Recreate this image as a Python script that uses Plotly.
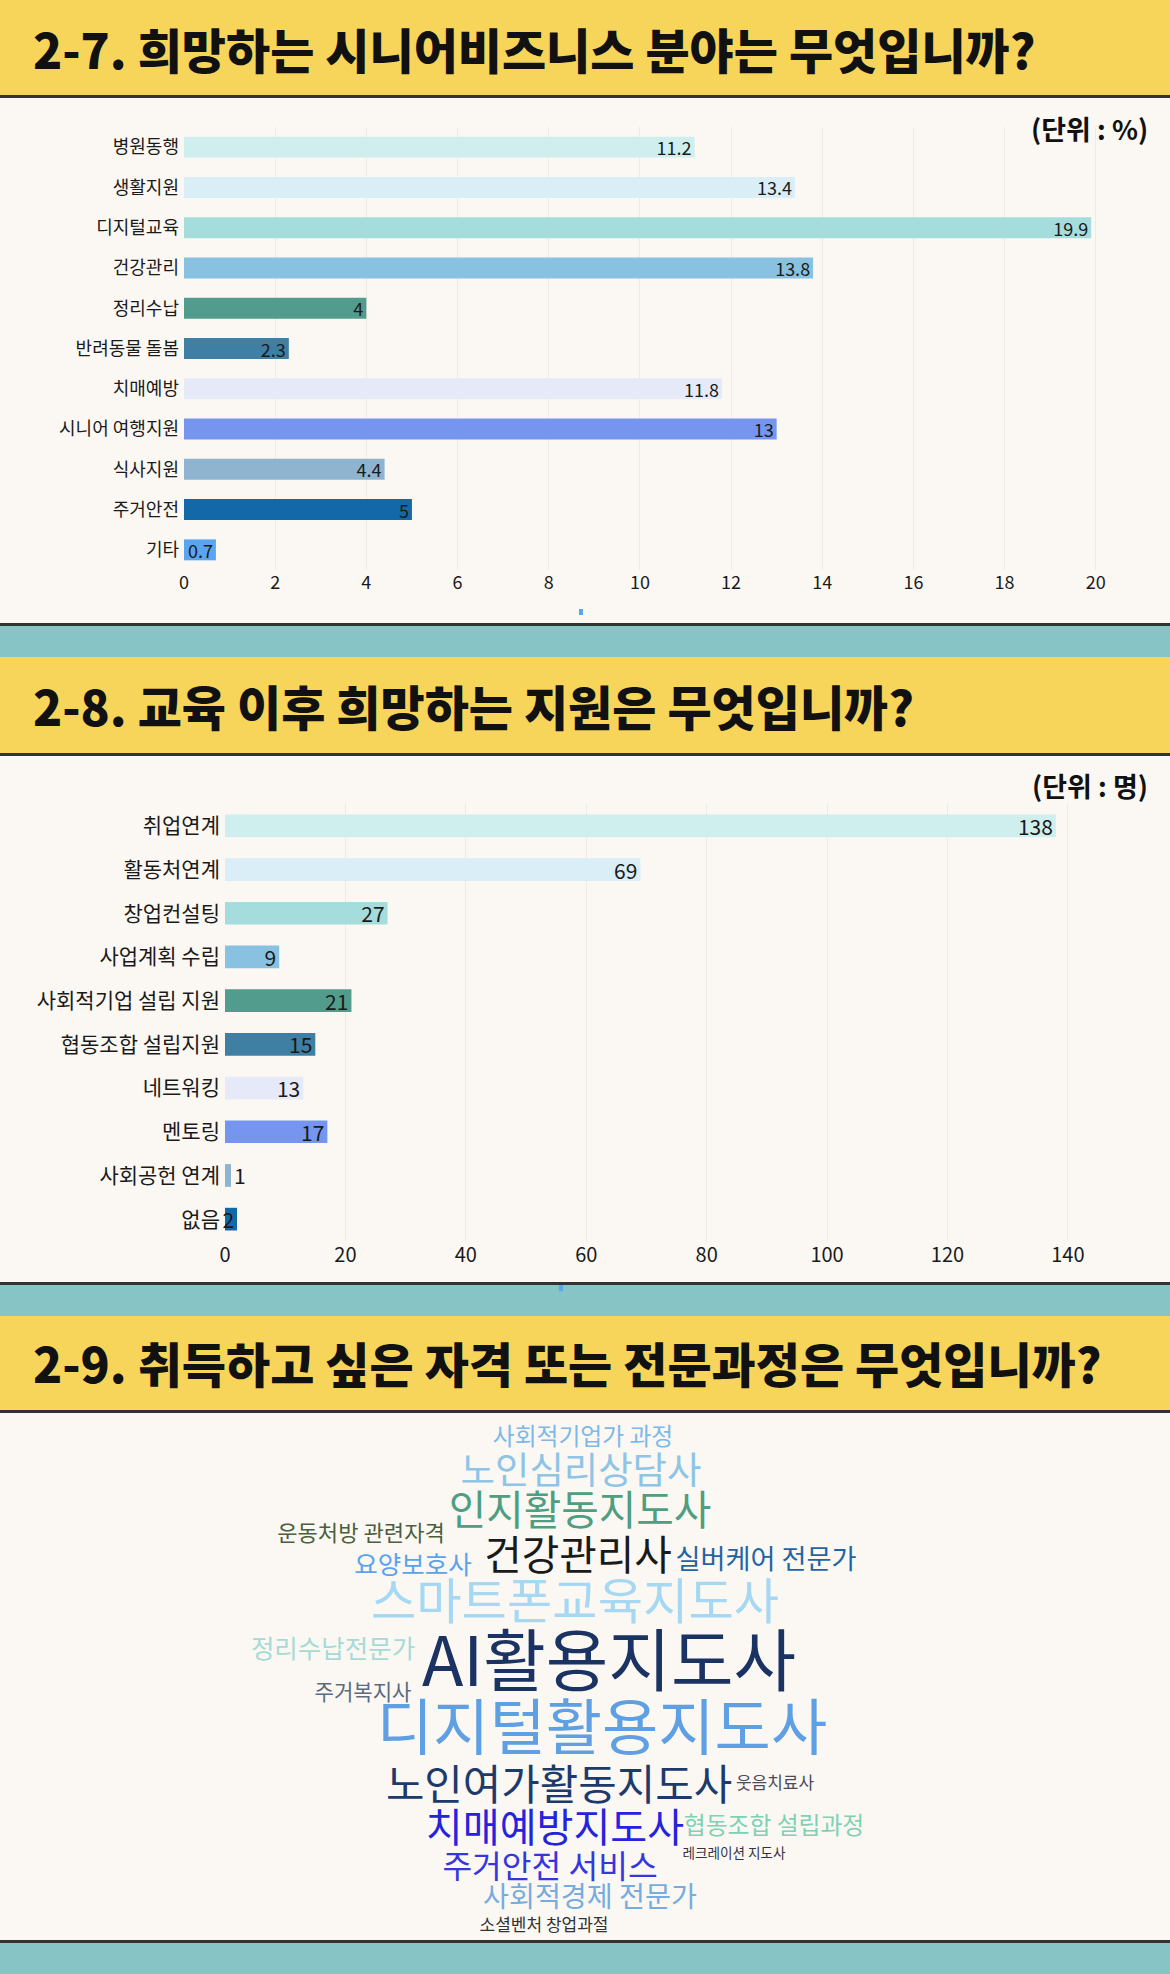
import plotly.graph_objects as go

# 2-7 희망하는 시니어비즈니스 분야 (%)
biz_labels = ["병원동행", "생활지원", "디지털교육", "건강관리", "정리수납", "반려동물 돌봄",
              "치매예방", "시니어 여행지원", "식사지원", "주거안전", "기타"]
biz_values = [11.2, 13.4, 19.9, 13.8, 4, 2.3, 11.8, 13, 4.4, 5, 0.7]

# 2-8 교육 이후 희망하는 지원 (명)
support_labels = ["취업연계", "활동처연계", "창업컨설팅", "사업계획 수립", "사회적기업 설립 지원",
                  "협동조합 설립지원", "네트워킹", "멘토링", "사회공헌 연계", "없음"]
support_values = [138, 69, 27, 9, 21, 15, 13, 17, 1, 2]

# 2-9 취득하고 싶은 자격 (word cloud, relative weight)
words = ["사회적기업가 과정", "노인심리상담사", "인지활동지도사", "운동처방 관련자격", "건강관리사",
         "요양보호사", "실버케어 전문가", "스마트폰교육지도사", "정리수납전문가", "AI활용지도사",
         "주거복지사", "디지털활용지도사", "노인여가활동지도사", "웃음치료사", "치매예방지도사",
         "협동조합 설립과정", "레크레이션 지도사", "주거안전 서비스", "사회적경제 전문가", "소셜벤처 창업과절"]
word_weight = [7, 11, 12, 6.5, 12, 7.5, 8, 14.5, 7.5, 20, 6.2, 18, 12.3, 5, 11.8, 7, 4, 9.5, 8.3, 5]

# word cloud layout (pixel positions in the cloud panel)
word_x = [583, 581, 580, 361, 578, 413, 766, 575, 333, 609, 363, 602, 559, 775, 555, 774, 734, 550, 590, 544]
word_y = [1439, 1475, 1515, 1535, 1560, 1568, 1562, 1607, 1652, 1669, 1695, 1735, 1790, 1785, 1832, 1828, 1855, 1870, 1900, 1927]
word_colors = ["#7DB8E8", "#8EC4E6", "#4E9E82", "#4B5E3E", "#1A1A1A", "#5AA2EC", "#1F64A6",
               "#A6D8F4", "#A6DAD6", "#1B3363", "#5A6A80", "#5F9FE3", "#1E3A6C", "#4A4A5A",
               "#2424DC", "#7CD2B4", "#333344", "#3636E0", "#76ACE0", "#333333"]

bar_colors = ["#CFEFEF", "#D9EEF7", "#A5DCDC", "#88C2E0", "#519C8C", "#3F7FA3",
              "#E6EAF8", "#7595EE", "#8FB4D0", "#1369A8", "#5AA5F0"]

W, H = 1170, 1974
FONT = "Noto Sans CJK KR"
YELLOW = "#F6D55A"
TEAL = "#86C4C6"
CREAM = "#FBF8F3"
DARK = "#333333"


def py(y):
    return 1 - y / H


fig = go.Figure()

fig.add_trace(go.Bar(
    x=biz_values, y=biz_labels, orientation="h",
    marker=dict(color=bar_colors, line=dict(width=0)),
    text=[str(v) for v in biz_values], textposition="inside",
    insidetextanchor="end", constraintext="none", textangle=0,
    textfont=dict(family=FONT, size=18, color="#1a1a1a"),
    xaxis="x", yaxis="y", hoverinfo="skip",
))

support_pos = ["inside"] * len(support_values)
support_pos[support_labels.index("사회공헌 연계")] = "outside"
fig.add_trace(go.Bar(
    x=support_values, y=support_labels, orientation="h",
    marker=dict(color=bar_colors[:len(support_values)], line=dict(width=0)),
    text=[str(v) for v in support_values], textposition=support_pos,
    insidetextanchor="end", constraintext="none", textangle=0, cliponaxis=False,
    textfont=dict(family=FONT, size=21, color="#1a1a1a"),
    xaxis="x2", yaxis="y2", hoverinfo="skip",
))

fig.add_trace(go.Scatter(
    x=word_x, y=word_y, mode="text", text=words,
    textposition="middle center",
    textfont=dict(family=FONT, size=[w * 3.4 for w in word_weight], color=word_colors),
    xaxis="x3", yaxis="y3", hoverinfo="skip",
))

# background bands
bands = [
    (0, 95, YELLOW), (95, 98, DARK), (98, 623, CREAM), (623, 626, DARK),
    (626, 657, TEAL), (657, 753, YELLOW), (753, 756, DARK), (756, 1282, CREAM),
    (1282, 1285, DARK), (1285, 1316, TEAL), (1316, 1410, YELLOW), (1410, 1413, DARK),
    (1413, 1940, CREAM), (1940, 1943, DARK), (1943, 1974, TEAL),
]
shapes = [dict(type="rect", xref="paper", yref="paper", x0=0, x1=1, y0=py(b), y1=py(t),
               fillcolor=c, line=dict(width=0), layer="below") for t, b, c in bands]
for cx, cy in [(581, 612), (561, 1288)]:
    shapes.append(dict(type="rect", xref="paper", yref="paper", x0=(cx - 2) / W, x1=(cx + 2) / W,
                       y0=py(cy + 3), y1=py(cy - 3), fillcolor="#5AA5F0", line=dict(width=0)))

titles = [
    ("2-7. 희망하는 시니어비즈니스 분야는 무엇입니까?", 48),
    ("2-8. 교육 이후 희망하는 지원은 무엇입니까?", 705),
    ("2-9. 취득하고 싶은 자격 또는 전문과정은 무엇입니까?", 1362),
]
annotations = [dict(text=t, xref="paper", yref="paper", x=31 / W, y=py(y), xanchor="left",
                    yanchor="middle", showarrow=False,
                    font=dict(family=FONT, size=48, color="#111111", weight=900)) for t, y in titles]
for t, y in [("(단위 : %)", 128), ("(단위 : 명)", 785)]:
    annotations.append(dict(text=t, xref="paper", yref="paper", x=1150 / W, y=py(y),
                            xanchor="right", yanchor="middle", showarrow=False,
                            font=dict(family=FONT, size=27, color="#111111", weight=700)))

grid = "#EFEBE4"
fig.update_layout(
    width=W, height=H, margin=dict(l=0, r=0, t=0, b=0, autoexpand=False),
    paper_bgcolor=CREAM, plot_bgcolor="rgba(0,0,0,0)",
    showlegend=False, bargap=0.48, hovermode=False,
    font=dict(family=FONT, color="#1a1a1a"),
    shapes=shapes, annotations=annotations,
    xaxis=dict(domain=[184 / W, 1114 / W], range=[0, 20.4], dtick=2, anchor="y",
               showgrid=True, gridcolor=grid, zeroline=False, showline=False, automargin=False,
               tickfont=dict(size=18, color="#1a1a1a"), fixedrange=True),
    yaxis=dict(domain=[py(570), py(127)], categoryorder="array", categoryarray=biz_labels,
               autorange="reversed", anchor="x", showgrid=False, zeroline=False, automargin=False,
               tickfont=dict(size=18, color="#1a1a1a"), ticks="", ticklabelstandoff=4,
               fixedrange=True),
    xaxis2=dict(domain=[225 / W, 1098 / W], range=[0, 145], dtick=20, anchor="y2",
                showgrid=True, gridcolor=grid, zeroline=False, showline=False, automargin=False,
                tickfont=dict(size=20, color="#1a1a1a"), fixedrange=True),
    yaxis2=dict(domain=[py(1241), py(804)], categoryorder="array", categoryarray=support_labels,
                autorange="reversed", anchor="x2", showgrid=False, zeroline=False, automargin=False,
                tickfont=dict(size=21, color="#1a1a1a"), ticks="", ticklabelstandoff=4,
                fixedrange=True),
    xaxis3=dict(domain=[0, 1], range=[0, W], visible=False, anchor="y3", automargin=False,
                fixedrange=True),
    yaxis3=dict(domain=[py(1940), py(1413)], range=[1940, 1413], visible=False, anchor="x3",
                automargin=False, fixedrange=True),
)

pin_div = ("document.body.style.margin='0';"
           "var d=document.getElementById('{plot_id}');"
           "d.style.position='absolute';d.style.left='0px';d.style.top='0px';")
fig.write_html("out.html", config=dict(displayModeBar=False), post_script=pin_div)
